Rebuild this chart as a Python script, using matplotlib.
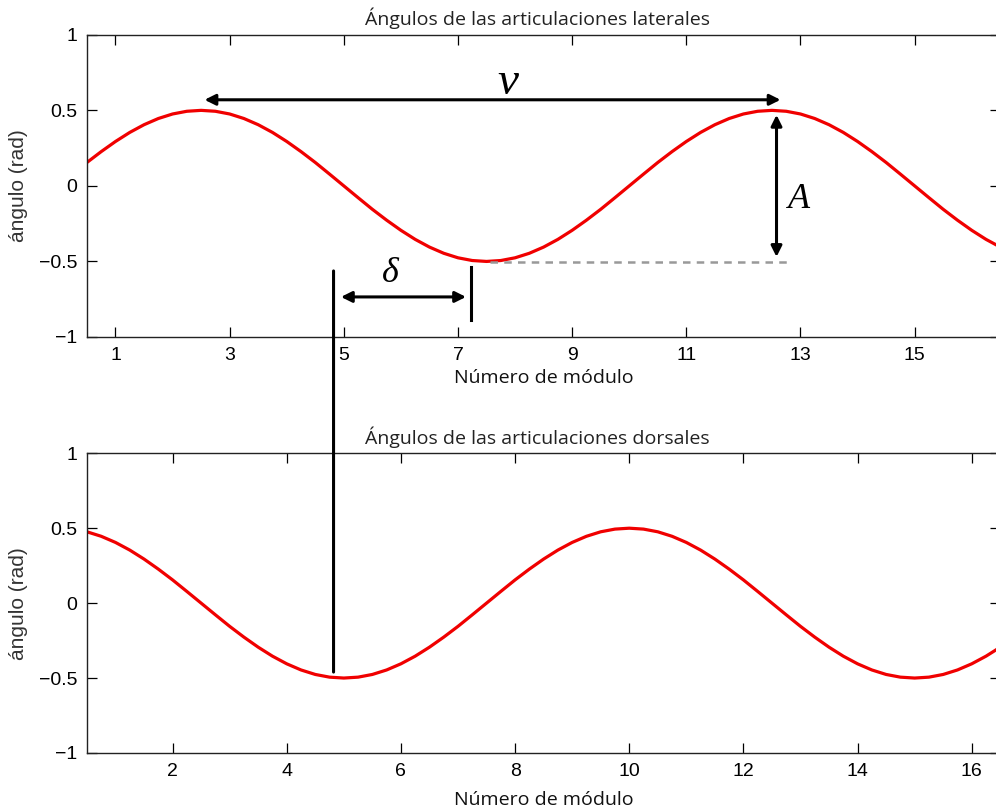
import numpy as np
import matplotlib
matplotlib.use("Agg")
import matplotlib.pyplot as plt
from matplotlib.patches import ConnectionPatch

# Muestras (cada 0.25 módulos, de 0.5 a 16.5)
modulo = np.arange(0.5, 16.75, 0.25)

angulo_lateral = [
    0.155, 0.227, 0.294, 0.354, 0.405, 0.446, 0.476, 0.494, 0.500,
    0.494, 0.476, 0.446, 0.405, 0.354, 0.294, 0.227, 0.155, 0.078,
    0.000, -0.078, -0.155, -0.227, -0.294, -0.354, -0.405, -0.446,
    -0.476, -0.494, -0.500, -0.494, -0.476, -0.446, -0.405, -0.354,
    -0.294, -0.227, -0.155, -0.078, 0.000, 0.078, 0.155, 0.227,
    0.294, 0.354, 0.405, 0.446, 0.476, 0.494, 0.500, 0.494, 0.476,
    0.446, 0.405, 0.354, 0.294, 0.227, 0.155, 0.078, 0.000, -0.078,
    -0.155, -0.227, -0.294, -0.354, -0.405,
]

angulo_dorsal = [
    0.476, 0.446, 0.405, 0.354, 0.294, 0.227, 0.155, 0.078, 0.000,
    -0.078, -0.155, -0.227, -0.294, -0.354, -0.405, -0.446, -0.476,
    -0.494, -0.500, -0.494, -0.476, -0.446, -0.405, -0.354, -0.294,
    -0.227, -0.155, -0.078, 0.000, 0.078, 0.155, 0.227, 0.294, 0.354,
    0.405, 0.446, 0.476, 0.494, 0.500, 0.494, 0.476, 0.446, 0.405,
    0.354, 0.294, 0.227, 0.155, 0.078, 0.000, -0.078, -0.155, -0.227,
    -0.294, -0.354, -0.405, -0.446, -0.476, -0.494, -0.500, -0.494,
    -0.476, -0.446, -0.405, -0.354, -0.294,
]

yticks = [-1, -0.5, 0, 0.5, 1]
ytick_labels = ["\u22121", "\u22120.5", "0", "0.5", "1"]
xticks_lat = [1, 3, 5, 7, 9, 11, 13, 15]
xticks_dor = [2, 4, 6, 8, 10, 12, 14, 16]

TICK_FONT = "Liberation Sans"
TEXT_FONT = "Open Sans"
MATH_FONT = "Liberation Serif"
ROJO = "#f00000"

fig = plt.figure(figsize=(9.96, 8.10), dpi=100)
ax1 = fig.add_axes([0.0873, 0.584, 0.917, 0.373])
ax2 = fig.add_axes([0.0873, 0.0704, 0.917, 0.370])


def estilo(ax, xticks, titulo, pad_x):
    ax.set_xlim(0.5, 16.5)
    ax.set_ylim(-1, 1)
    ax.set_xticks(xticks)
    ax.set_yticks(yticks)
    ax.set_yticklabels(ytick_labels)
    ax.tick_params(direction="in", length=7, width=0.9, top=True,
                   right=True, labelsize=14, pad=7, colors="black")
    for lab in ax.get_xticklabels() + ax.get_yticklabels():
        lab.set_family(TICK_FONT)
    for sp in ax.spines.values():
        sp.set_linewidth(1.0)
        sp.set_color("#222222")
    ax.set_title(titulo, fontsize=14, family=TEXT_FONT, color="#222222",
                 pad=7)
    ax.set_xlabel("Número de módulo", fontsize=14, family=TEXT_FONT,
                  color="#111111", labelpad=pad_x)
    ax.set_ylabel("ángulo (rad)", fontsize=15, family=TICK_FONT,
                  color="#333333", labelpad=8)


ax1.plot(modulo, angulo_lateral, color=ROJO, lw=2.3)
ax2.plot(modulo, angulo_dorsal, color=ROJO, lw=2.3)
estilo(ax1, xticks_lat, "Ángulos de las articulaciones laterales", 4)
estilo(ax2, xticks_dor, "Ángulos de las articulaciones dorsales", 8)
ax1.title.set_x(0.493)
ax2.title.set_x(0.493)

flecha = dict(arrowstyle="<|-|>", color="black", lw=2.2,
              mutation_scale=16, shrinkA=0, shrinkB=0)

# longitud de onda
ax1.annotate("", xy=(2.56, 0.57), xytext=(12.65, 0.57), arrowprops=flecha)
ax1.text(7.88, 0.68, "v", fontsize=34, family=MATH_FONT, style="italic",
         ha="center", va="center")

# amplitud
ax1.annotate("", xy=(12.58, 0.47), xytext=(12.58, -0.47), arrowprops=flecha)
ax1.text(12.97, -0.09, "A", fontsize=26, family=MATH_FONT, style="italic",
         ha="center", va="center")
ax1.plot([7.56, 12.86], [-0.503, -0.503], color="#999999", lw=1.8,
         ls=(0, (3, 2.5)))

# desfase
ax1.annotate("", xy=(4.95, -0.735), xytext=(7.14, -0.735), arrowprops=flecha)
ax1.plot([7.23, 7.23], [-0.536, -0.887], color="black", lw=2.2)
ax1.text(5.82, -0.58, "\u03b4", fontsize=26, family=MATH_FONT,
         style="italic", ha="center", va="center")

linea = ConnectionPatch(xyA=(4.82, -0.563), coordsA=ax1.transData,
                        xyB=(4.82, -0.46), coordsB=ax2.transData,
                        color="black", lw=2.2)
fig.add_artist(linea)

fig.savefig("out.png", dpi=100)
